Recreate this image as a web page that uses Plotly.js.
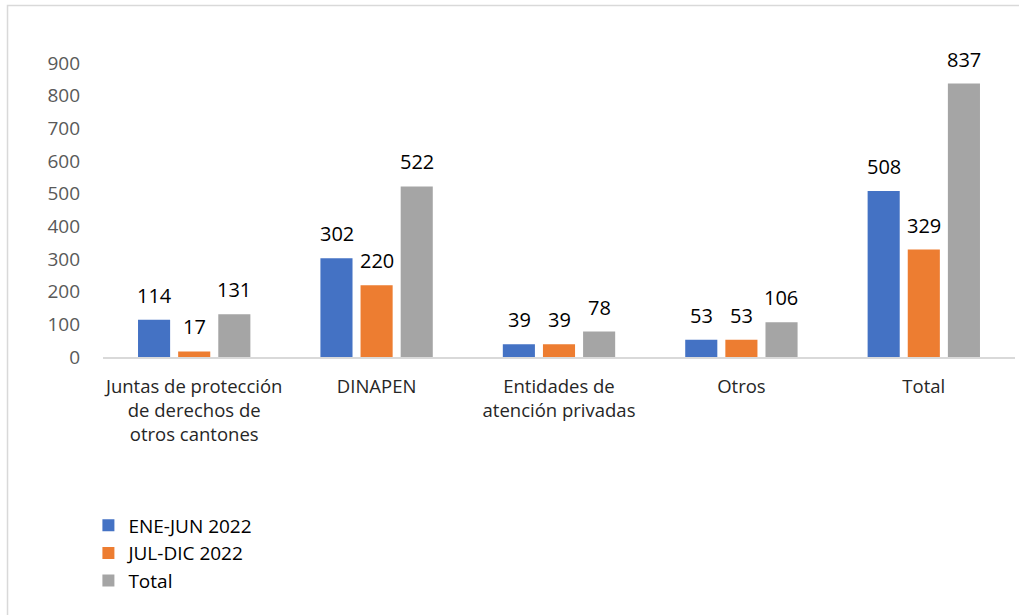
<!DOCTYPE html>
<html>
<head>
<meta charset="utf-8">
<script src="https://cdn.plot.ly/plotly-3.0.1.min.js"></script>
<style>html,body{margin:0;padding:0;background:#fff;}#chart{width:1019px;height:615px;}</style>
</head>
<body>
<div id="chart"></div>
<script>
const categories = ["Juntas de protección<br>de derechos de<br>otros cantones", "DINAPEN", "Entidades de<br>atención privadas", "Otros", "Total"];
const seriesNames = ["ENE-JUN 2022", "JUL-DIC 2022", "Total"];
const eneJun = [114, 302, 39, 53, 508];
const julDic = [17, 220, 39, 53, 329];
const totalVals = [131, 522, 78, 106, 837];
const yTicks = [0, 100, 200, 300, 400, 500, 600, 700, 800, 900];

const colors = ["#4472C4", "#ED7D31", "#A5A5A5"];
const FONT = "'Open Sans', 'Noto Sans', sans-serif";
const seriesVals = [eneJun, julDic, totalVals];
const groupOffsets = [-40, 0, 40];

const traces = seriesVals.map((vals, i) => ({
  type: "bar",
  name: seriesNames[i],
  x: categories,
  y: vals,
  marker: {color: colors[i]},
  hoverinfo: "x+y+name"
}));

const annotations = [];
seriesVals.forEach((vals, i) => {
  vals.forEach((v, j) => {
    annotations.push({
      x: categories[j], y: v, xref: "x", yref: "y",
      text: String(v), showarrow: false,
      xanchor: "center", yanchor: "bottom",
      xshift: groupOffsets[i], yshift: 9,
      font: {family: FONT, size: 20, color: "#000000"}
    });
  });
});

const layout = {
  width: 1019,
  height: 615,
  margin: {l: 103, r: 4, t: 63, b: 257.5, pad: 0},
  paper_bgcolor: "#ffffff",
  plot_bgcolor: "#ffffff",
  font: {family: FONT, size: 18, color: "#404040"},
  barmode: "group",
  bargap: 0.34,
  bargroupgap: 0.2,
  showlegend: true,
  legend: {
    x: -0.016, y: -0.508, xanchor: "left", yanchor: "top",
    orientation: "v",
    font: {family: FONT, size: 19, color: "#000000"},
    tracegroupgap: 0,
    itemwidth: 30,
    bgcolor: "rgba(0,0,0,0)"
  },
  xaxis: {
    type: "category",
    showgrid: false,
    showline: true,
    linecolor: "#D9D9D9",
    linewidth: 1.5,
    ticks: "",
    tickfont: {family: FONT, size: 18.5, color: "#262626"},
    ticklabelstandoff: 12,
    fixedrange: true
  },
  yaxis: {
    range: [0, 900],
    tickvals: yTicks,
    ticktext: yTicks.map(String),
    showgrid: false,
    zeroline: false,
    showline: false,
    ticks: "",
    tickfont: {family: FONT, size: 19, color: "#595959"},
    ticklabelstandoff: 22,
    fixedrange: true
  },
  annotations: annotations,
  shapes: [{
    type: "rect", xref: "paper", yref: "paper",
    x0: -0.1047, x1: 1.05, y0: -1.2, y1: 1.1953,
    line: {color: "#D9D9D9", width: 1.5},
    fillcolor: "rgba(0,0,0,0)", layer: "below"
  }]
};

Plotly.newPlot("chart", traces, layout, {displayModeBar: false, staticPlot: true});
</script>
</body>
</html>
